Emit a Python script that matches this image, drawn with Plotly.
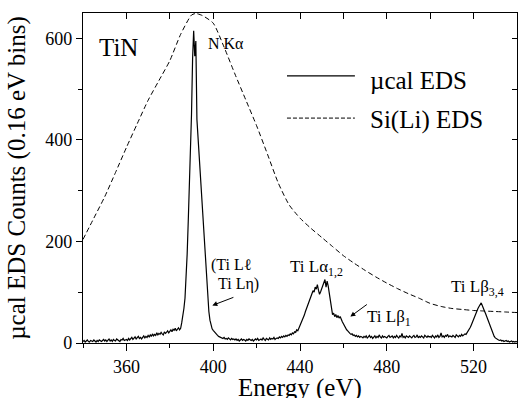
import numpy as np
import plotly.graph_objects as go

# ---------------- data ----------------
# microcalorimeter EDS spectrum, 0.5 eV sampled, 340.0 .. 540.0 eV
ucal_start = 340.0
ucal_step = 0.5
ucal_counts = [
    3, 5, 2, 4, 6, 3, 2, 5, 4, 3, 6, 4, 2, 5, 3, 6, 4, 3, 5, 7,            # 340
    4, 6, 3, 5, 8, 4, 6, 3, 7, 5, 4, 8, 6, 5, 3, 7, 6, 9, 5, 6,            # 350
    7, 5, 9, 6, 8, 11, 7, 9, 12, 8, 10, 13, 9, 11, 8, 12, 14, 10, 13, 11,  # 360
    15, 12, 16, 13, 18, 14, 17, 15, 20, 16, 19, 17, 21, 18, 16, 22, 19, 21, 24, 20,  # 370
    23, 26, 22, 27, 25, 29, 24, 27, 30, 26, 29, 40, 52, 68, 88, 125, 175, 240, 300, 370,  # 380
    450, 560, 615, 565, 595, 440, 405, 370, 335, 310, 282, 250, 200, 165, 128, 92, 62, 45, 33, 28,  # 390
    25, 22, 19, 17, 15, 13, 12, 11, 10, 9, 11, 8, 9, 7, 10, 8, 6, 9, 7, 8,  # 400
    6, 8, 5, 7, 4, 6, 8, 5, 7, 6, 4, 7, 5, 8, 6, 5, 7, 4, 6, 8,            # 410
    6, 9, 5, 7, 8, 6, 10, 7, 5, 9, 8, 6, 10, 7, 9, 8, 11, 7, 9, 10,        # 420
    9, 12, 10, 13, 11, 14, 12, 15, 13, 16, 15, 18, 16, 20, 18, 22, 21, 26, 24, 29,  # 430
    32, 38, 43, 50, 55, 62, 68, 75, 80, 86, 92, 98, 103, 100, 110, 106, 115, 104, 96, 101,  # 440
    107, 112, 118, 125, 110, 122, 112, 96, 80, 62, 56, 59, 52, 56, 50, 54, 49, 52, 45, 42,  # 450
    38, 33, 30, 26, 24, 20, 19, 17, 18, 15, 16, 13, 15, 12, 14, 11, 13, 12, 10, 13,  # 460
    11, 14, 10, 12, 15, 11, 13, 9, 12, 14, 10, 13, 11, 16, 12, 10, 14, 11, 13, 12,  # 470
    10, 13, 15, 11, 12, 14, 10, 13, 11, 15, 12, 10, 14, 12, 19, 11, 13, 10, 14, 12,  # 480
    11, 14, 12, 10, 13, 15, 11, 12, 16, 10, 13, 11, 14, 12, 10, 15, 13, 11, 14, 12,  # 490
    13, 11, 15, 12, 10, 14, 12, 16, 11, 13, 20, 12, 14, 11, 15, 13, 17, 12, 14, 13,  # 500
    12, 15, 13, 11, 16, 14, 12, 15, 13, 17, 14, 16, 18, 17, 20, 23, 26, 31, 36, 42,  # 510
    47, 53, 58, 63, 68, 72, 76, 79, 74, 70, 63, 58, 52, 45, 40, 33, 28, 22, 17, 13,  # 520
    10, 8, 7, 6, 5, 6, 4, 5, 3, 4, 5, 3, 4, 2, 3, 4, 2, 3, 2, 3,           # 530
    2,                                                                      # 540
]
ucal_energy = ucal_start + ucal_step * np.arange(len(ucal_counts))

# Si(Li) EDS spectrum (scaled), every 5 eV
sili_energy = [340, 345, 350, 355, 360, 365, 370, 375, 380, 385, 390, 392, 395,
               400, 405, 410, 415, 420, 425, 430, 435, 440, 445, 450, 455, 460,
               465, 470, 475, 480, 485, 490, 495, 500, 505, 510, 515, 520, 525,
               530, 535, 540]
sili_counts = [204, 246, 288, 336, 385, 432, 478, 517, 556, 608, 646, 649, 645,
               630, 583, 530, 479, 428, 372, 315, 272, 246, 226, 208, 190, 172,
               157, 143, 130, 118, 107, 97, 88, 78, 72, 68, 66, 64, 63,
               62, 61, 60]

series_names = ["\u00b5cal EDS", "Si(Li) EDS"]
x_ticks = [360, 400, 440, 480, 520]
y_ticks = [0, 200, 400, 600]
x_title = "Energy (eV)"
y_title = "\u00b5cal EDS Counts (0.16 eV bins)"

FONT = "Liberation Serif"
X_RANGE = [340, 540]
Y_RANGE = [0, 650]

fig = go.Figure()
fig.add_trace(go.Scatter(x=ucal_energy, y=ucal_counts, mode="lines",
                         name=series_names[0], showlegend=False,
                         line=dict(color="black", width=1.2)))
# drawn on the mirrored (top/right) axes so those frame axes get rendered
fig.add_trace(go.Scatter(x=sili_energy, y=sili_counts, mode="lines",
                         name=series_names[1], showlegend=False,
                         xaxis="x2", yaxis="y2",
                         line=dict(color="black", width=1, dash="5px,3px",
                                   shape="spline", smoothing=0.6)))

axis_common = dict(showgrid=False, zeroline=False, showline=True,
                   linecolor="black", linewidth=1.2, tickcolor="black",
                   tickwidth=1.2, automargin=False)

fig.update_layout(
    width=518, height=398,
    margin=dict(l=83, r=1, t=13, b=55),
    paper_bgcolor="white", plot_bgcolor="white",
    font=dict(family=FONT, color="black", size=18),
    xaxis=dict(range=X_RANGE, tickmode="array", tickvals=x_ticks,
               ticktext=[str(v) for v in x_ticks],
               ticks="outside", ticklen=7,
               minor=dict(tickmode="linear", tick0=340, dtick=20, ticks="outside",
                          ticklen=4, tickcolor="black", tickwidth=1.2,
                          showgrid=False),
               tickfont=dict(size=18, family=FONT),
               **axis_common),
    yaxis=dict(range=Y_RANGE, tickmode="array", tickvals=y_ticks,
               ticktext=[str(v) for v in y_ticks],
               ticks="outside", ticklen=6,
               minor=dict(tickmode="linear", tick0=0, dtick=100, ticks="outside",
                          ticklen=4, tickcolor="black", tickwidth=1.2,
                          showgrid=False),
               tickfont=dict(size=18, family=FONT),
               title=dict(text=y_title, font=dict(size=25, family=FONT),
                          standoff=12),
               **axis_common),
    xaxis2=dict(range=X_RANGE, overlaying="x", side="top", anchor="y2",
                tickmode="linear", tick0=340, dtick=20, ticks="inside",
                ticklen=6, showticklabels=False, **axis_common),
    yaxis2=dict(range=Y_RANGE, overlaying="y", side="right", anchor="x2",
                tickmode="linear", tick0=0, dtick=100, ticks="inside",
                ticklen=5, showticklabels=False, **axis_common),
)

# x-axis title placed as in the original (partly below the page edge)
fig.add_annotation(x=0.5, y=-0.135, xref="paper", yref="paper", text=x_title,
                   showarrow=False, xanchor="center", yanchor="middle",
                   font=dict(size=25, family=FONT, color="black"))

def label(x, y, text, size):
    fig.add_annotation(x=x, y=y, xref="x", yref="y", text=text, showarrow=False,
                       xanchor="left", yanchor="middle",
                       font=dict(size=size, family=FONT, color="black"))

label(346.5, 583, "TiN", 25)
label(396.8, 589, "N K\u03b1", 16)
label(398.0, 153, "(Ti L\u2113", 16)
label(401.4, 117, "Ti L\u03b7)", 16)
label(434.3, 148, "Ti L\u03b1<sub>1,2</sub>", 17)
label(470.0, 49, "Ti L\u03b2<sub>1</sub>", 17)
label(508.8, 108, "Ti L\u03b2<sub>3,4</sub>", 17)

def arrow(x0, y0, x1, y1):
    fig.add_annotation(x=x1, y=y1, ax=x0, ay=y0, xref="x", yref="y",
                       axref="x", ayref="y", text="", showarrow=True,
                       arrowhead=2, arrowsize=1, arrowwidth=1,
                       arrowcolor="black")

arrow(410.0, 91, 399.6, 74)
arrow(471.5, 78, 463.2, 52)

# legend drawn by hand (long sample lines as in the original)
fig.add_shape(type="line", xref="x", yref="y", x0=434, x1=465.3, y0=526, y1=526,
              line=dict(color="black", width=1.2))
fig.add_shape(type="line", xref="x", yref="y", x0=434, x1=465.3, y0=443, y1=443,
              line=dict(color="black", width=1, dash="4px,2px"))
label(471.3, 518, series_names[0], 25)
label(471.3, 439, series_names[1], 25)

fig.write_html("out.html")
